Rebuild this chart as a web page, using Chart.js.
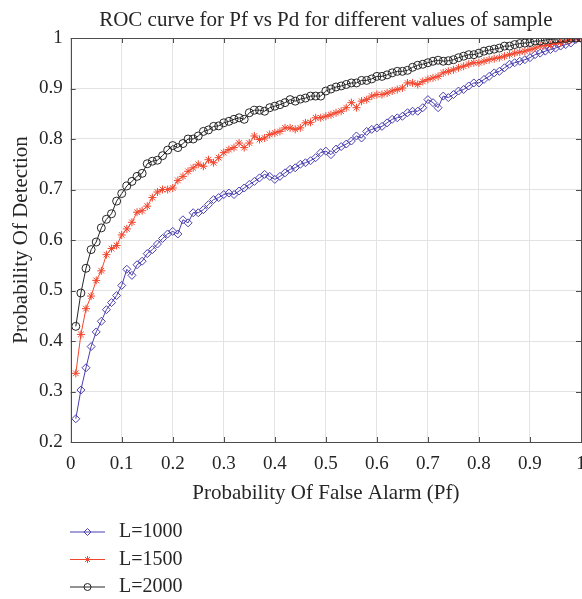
<!DOCTYPE html>
<html>
<head>
<meta charset="utf-8">
<title>ROC curve</title>
<script src="https://cdn.jsdelivr.net/npm/chart.js@4.4.0/dist/chart.umd.min.js"></script>
<style>
    html, body { margin: 0; padding: 0; background: #fff; }
    #wrap { width: 582px; height: 599px; }
</style>
</head>
<body>
<div id="wrap"><canvas id="roc" width="582" height="599"></canvas></div>
<script>
// Probability of false alarm (x values of the sampled curves)
const pf = [
    0.01, 0.02, 0.03, 0.04, 0.05, 0.06, 0.07, 0.08, 0.09, 0.10,
    0.11, 0.12, 0.13, 0.14, 0.15, 0.16, 0.17, 0.18, 0.19, 0.20,
    0.21, 0.22, 0.23, 0.24, 0.25, 0.26, 0.27, 0.28, 0.29, 0.30,
    0.31, 0.32, 0.33, 0.34, 0.35, 0.36, 0.37, 0.38, 0.39, 0.40,
    0.41, 0.42, 0.43, 0.44, 0.45, 0.46, 0.47, 0.48, 0.49, 0.50,
    0.51, 0.52, 0.53, 0.54, 0.55, 0.56, 0.57, 0.58, 0.59, 0.60,
    0.61, 0.62, 0.63, 0.64, 0.65, 0.66, 0.67, 0.68, 0.69, 0.70,
    0.71, 0.72, 0.73, 0.74, 0.75, 0.76, 0.77, 0.78, 0.79, 0.80,
    0.81, 0.82, 0.83, 0.84, 0.85, 0.86, 0.87, 0.88, 0.89, 0.90,
    0.91, 0.92, 0.93, 0.94, 0.95, 0.96, 0.97, 0.98, 0.99, 1.00
];

// Probability of detection, L=1000
const pdL1000 = [
    0.246, 0.303, 0.347, 0.389, 0.418, 0.439, 0.462, 0.476, 0.490, 0.510,
    0.542, 0.530, 0.551, 0.558, 0.573, 0.581, 0.592, 0.603, 0.612, 0.617,
    0.612, 0.640, 0.634, 0.654, 0.654, 0.660, 0.670, 0.680, 0.684, 0.690,
    0.693, 0.690, 0.697, 0.703, 0.710, 0.716, 0.723, 0.730, 0.726, 0.720,
    0.726, 0.733, 0.740, 0.743, 0.750, 0.753, 0.757, 0.763, 0.773, 0.776,
    0.769, 0.780, 0.785, 0.790, 0.796, 0.806, 0.802, 0.815, 0.819, 0.822,
    0.825, 0.832, 0.839, 0.842, 0.845, 0.852, 0.855, 0.855, 0.862, 0.878,
    0.872, 0.862, 0.885, 0.882, 0.888, 0.895, 0.898, 0.905, 0.911, 0.911,
    0.918, 0.924, 0.931, 0.934, 0.941, 0.948, 0.951, 0.954, 0.957, 0.961,
    0.967, 0.970, 0.974, 0.977, 0.980, 0.984, 0.987, 0.990, 0.997, 1.000
];

// Probability of detection, L=1500
const pdL1500 = [
    0.336, 0.413, 0.464, 0.489, 0.520, 0.539, 0.571, 0.583, 0.589, 0.610,
    0.622, 0.635, 0.655, 0.658, 0.667, 0.684, 0.695, 0.700, 0.700, 0.703,
    0.718, 0.726, 0.736, 0.743, 0.750, 0.746, 0.759, 0.753, 0.763, 0.773,
    0.779, 0.783, 0.792, 0.783, 0.792, 0.806, 0.799, 0.802, 0.809, 0.812,
    0.815, 0.822, 0.822, 0.819, 0.822, 0.832, 0.833, 0.842, 0.842, 0.845,
    0.848, 0.852, 0.855, 0.862, 0.872, 0.862, 0.875, 0.878, 0.885, 0.888,
    0.888, 0.891, 0.895, 0.898, 0.901, 0.911, 0.911, 0.908, 0.914, 0.918,
    0.921, 0.924, 0.931, 0.934, 0.937, 0.941, 0.944, 0.948, 0.951, 0.951,
    0.954, 0.957, 0.959, 0.961, 0.964, 0.967, 0.970, 0.972, 0.974, 0.977,
    0.980, 0.984, 0.985, 0.987, 0.989, 0.991, 0.994, 0.997, 0.999, 1.000
];

// Probability of detection, L=2000
const pdL2000 = [
    0.429, 0.495, 0.544, 0.581, 0.596, 0.624, 0.641, 0.652, 0.677, 0.692,
    0.707, 0.716, 0.726, 0.732, 0.751, 0.756, 0.758, 0.767, 0.778, 0.787,
    0.783, 0.791, 0.800, 0.800, 0.806, 0.815, 0.818, 0.825, 0.826, 0.832,
    0.835, 0.839, 0.842, 0.839, 0.852, 0.857, 0.857, 0.855, 0.862, 0.865,
    0.868, 0.872, 0.878, 0.875, 0.879, 0.881, 0.885, 0.885, 0.885, 0.895,
    0.899, 0.903, 0.905, 0.908, 0.911, 0.911, 0.916, 0.916, 0.919, 0.924,
    0.924, 0.927, 0.931, 0.934, 0.934, 0.936, 0.942, 0.946, 0.948, 0.951,
    0.954, 0.956, 0.954, 0.955, 0.957, 0.961, 0.964, 0.967, 0.967, 0.970,
    0.974, 0.976, 0.978, 0.980, 0.984, 0.984, 0.987, 0.989, 0.990, 0.991,
    0.994, 0.994, 0.996, 0.997, 0.998, 0.999, 0.999, 1.000, 1.000, 1.000
];

const seriesLabels = ['L=1000', 'L=1500', 'L=2000'];

const FONT = '"Liberation Serif", "DejaVu Serif", serif';
const TEXT = '#262626';

function toPoints(ys) {
    return pf.map((x, i) => ({ x: x, y: ys[i] }));
}

// "1.0" -> "1", "0.30000000000000004" -> "0.3"
function tickText(v) {
    return String(Number(v.toFixed(1)));
}

// Titre centré sur la zone de tracé
const plotTitle = {
    id: 'plotTitle',
    afterDraw(chart) {
        const ctx = chart.ctx;
        const area = chart.chartArea;
        ctx.save();
        ctx.font = '21px ' + FONT;
        ctx.fillStyle = TEXT;
        ctx.textAlign = 'center';
        ctx.textBaseline = 'middle';
        ctx.fillText('ROC curve for Pf vs Pd for different values of sample', (area.left + area.right) / 2, 20);
        ctx.restore();
    }
};

// Cadre + graduations vers l'intérieur (style MATLAB)
const boxFrame = {
    id: 'boxFrame',
    afterDatasetsDraw(chart) {
        const ctx = chart.ctx;
        const a = chart.chartArea;
        const len = 5;
        ctx.save();
        ctx.strokeStyle = '#4d4d4d';
        ctx.lineWidth = 1;
        ctx.beginPath();
        chart.scales.x.ticks.forEach(t => {
            const px = Math.round(chart.scales.x.getPixelForValue(t.value)) + 0.5;
            ctx.moveTo(px, a.bottom); ctx.lineTo(px, a.bottom - len);
            ctx.moveTo(px, a.top); ctx.lineTo(px, a.top + len);
        });
        chart.scales.y.ticks.forEach(t => {
            const py = Math.round(chart.scales.y.getPixelForValue(t.value)) + 0.5;
            ctx.moveTo(a.left, py); ctx.lineTo(a.left + len, py);
            ctx.moveTo(a.right, py); ctx.lineTo(a.right - len, py);
        });
        ctx.stroke();
        ctx.strokeRect(Math.round(a.left) + 0.5, Math.round(a.top) + 0.5,
            Math.round(a.right - a.left), Math.round(a.bottom - a.top));
        ctx.restore();
    }
};

// Légende verticale sous l'axe des x
const sideLegend = {
    id: 'sideLegend',
    afterDraw(chart) {
        const ctx = chart.ctx;
        chart.data.datasets.forEach((ds, i) => {
            const y = 532 + i * 27.5;
            ctx.save();
            ctx.strokeStyle = ds.borderColor;
            ctx.fillStyle = 'rgba(0,0,0,0)';
            ctx.lineWidth = 1;
            ctx.beginPath();
            ctx.moveTo(70, y);
            ctx.lineTo(105, y);
            ctx.stroke();
            Chart.helpers.drawPoint(ctx, {
                pointStyle: ds.pointStyle,
                radius: 3.5,
                rotation: 0,
                borderWidth: 1
            }, 87.5, y);
            ctx.font = '20px ' + FONT;
            ctx.fillStyle = TEXT;
            ctx.textAlign = 'left';
            ctx.textBaseline = 'middle';
            ctx.fillText(ds.label, 119, y);
            ctx.restore();
        });
    }
};

function makeDataset(label, ys, color, style, order) {
    return {
        label: label,
        data: toPoints(ys),
        borderColor: color,
        backgroundColor: 'rgba(0,0,0,0)',
        borderWidth: 1,
        pointStyle: style,
        pointRadius: 4,
        pointBorderWidth: 1,
        pointBorderColor: color,
        pointBackgroundColor: 'rgba(0,0,0,0)',
        tension: 0,
        order: order
    };
}

function initChart() {
    if (typeof Chart === 'undefined') {
        console.warn('Chart.js not loaded');
        return;
    }
    Chart.defaults.font.family = FONT;
    Chart.defaults.color = TEXT;

    const ctx = document.getElementById('roc').getContext('2d');
    new Chart(ctx, {
        type: 'line',
        data: {
            datasets: [
                makeDataset(seriesLabels[0], pdL1000, '#4a3fae', 'rectRot', 3),
                makeDataset(seriesLabels[1], pdL1500, '#f2452d', 'star', 2),
                makeDataset(seriesLabels[2], pdL2000, '#262626', 'circle', 1)
            ]
        },
        options: {
            responsive: false,
            animation: false,
            layout: {
                autoPadding: false,
                padding: { left: 5, top: 38, right: 1, bottom: 89 }
            },
            plugins: {
                legend: { display: false },
                title: { display: false },
                tooltip: { enabled: false }
            },
            scales: {
                x: {
                    type: 'linear',
                    min: 0,
                    max: 1,
                    ticks: {
                        stepSize: 0.1,
                        padding: 11,
                        font: { size: 19 },
                        maxRotation: 0,
                        color: TEXT,
                        callback: tickText
                    },
                    grid: { color: '#e3e3e3', drawTicks: false, tickLength: 0 },
                    border: { display: false },
                    title: {
                        display: true,
                        text: 'Probability Of False Alarm (Pf)',
                        font: { size: 21 },
                        color: TEXT
                    },
                    afterFit(scale) {
                        scale.height = 68;
                        scale.paddingLeft = 0;
                        scale.paddingRight = 0;
                    }
                },
                y: {
                    min: 0.2,
                    max: 1,
                    ticks: {
                        stepSize: 0.1,
                        padding: 8,
                        font: { size: 19 },
                        color: TEXT,
                        callback: tickText
                    },
                    grid: { color: '#e3e3e3', drawTicks: false, tickLength: 0 },
                    border: { display: false },
                    title: {
                        display: true,
                        text: 'Probability Of Detection',
                        font: { size: 21 },
                        color: TEXT
                    },
                    afterFit(scale) {
                        scale.width = 65.7;
                    }
                }
            }
        },
        plugins: [plotTitle, boxFrame, sideLegend]
    });
}

initChart();
</script>
</body>
</html>
